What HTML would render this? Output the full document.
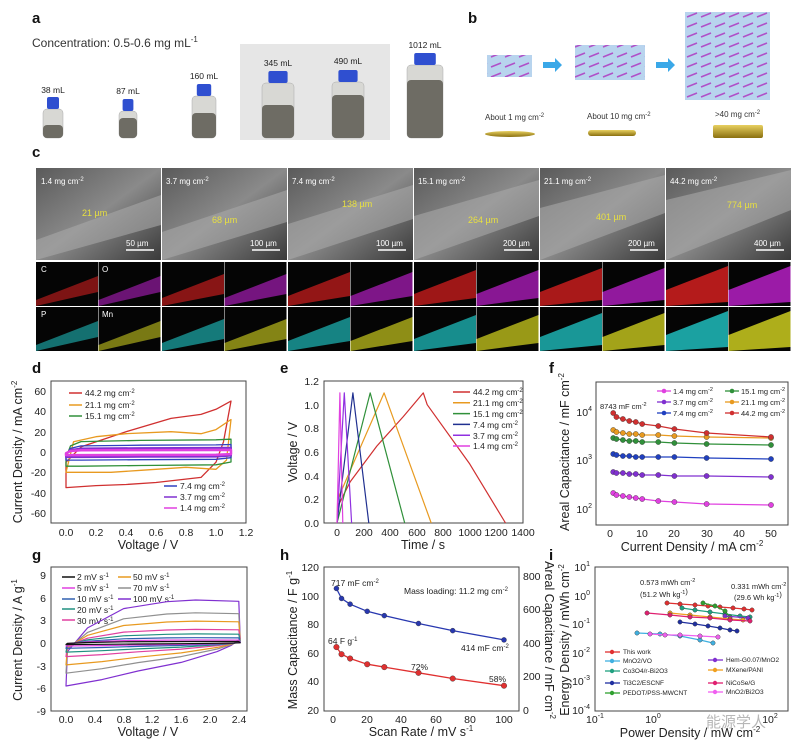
<!DOCTYPE html>
<html><head><meta charset="utf-8"><style>
body{margin:0;background:#fff}
svg{display:block;font-family:"Liberation Sans","Noto Sans CJK SC",sans-serif}
.t{font-size:10.5px;fill:#222}
.s{font-size:8.5px;fill:#222}
.l{font-size:12.5px;fill:#222}
.L{font-size:15px;font-weight:bold;fill:#111}
</style></head><body>
<svg id="s" width="800" height="753" viewBox="0 0 800 753" xmlns="http://www.w3.org/2000/svg">
<defs>
<linearGradient id="semgrad" x1="0" y1="0" x2="1" y2="1"><stop offset="0" stop-color="#5a5a5a"/><stop offset="0.5" stop-color="#8a8a8a"/><stop offset="1" stop-color="#3a3a3a"/></linearGradient>
<linearGradient id="disc" x1="0" y1="0" x2="0" y2="1"><stop offset="0" stop-color="#e8d060"/><stop offset="1" stop-color="#8a7010"/></linearGradient>
<pattern id="lat" width="14" height="10" patternUnits="userSpaceOnUse"><rect width="14" height="10" fill="#b8d4ee"/><line x1="1" y1="7" x2="11" y2="3" stroke="#b050c8" stroke-width="1.5"/></pattern>
</defs>
<rect width="800" height="753" fill="#fff"/>
<!-- a -->
<text x="32" y="23" class="L">a</text>
<text x="32" y="47" style="font-size:12px;fill:#333">Concentration: 0.5-0.6 mg mL<tspan dy="-5" font-size="8">-1</tspan></text>
<rect x="240" y="44" width="150" height="96" fill="#e6e6e6"/>
<g id="bottles"></g>
<text x="53" y="93" class="s" text-anchor="middle">38 mL</text>
<text x="128" y="94" class="s" text-anchor="middle">87 mL</text>
<text x="204" y="79" class="s" text-anchor="middle">160 mL</text>
<text x="278" y="66" class="s" text-anchor="middle">345 mL</text>
<text x="348" y="64" class="s" text-anchor="middle">490 mL</text>
<text x="425" y="48" class="s" text-anchor="middle">1012 mL</text>
<!-- b -->
<text x="468" y="23" class="L">b</text>
<rect x="487" y="55" width="45" height="22" fill="url(#lat)"/>
<rect x="575" y="45" width="70" height="35" fill="url(#lat)"/>
<rect x="685" y="12" width="85" height="88" fill="url(#lat)"/>
<polygon points="543,62 555,62 555,58 562,65 555,72 555,68 543,68" fill="#3aa8e8"/>
<polygon points="656,62 668,62 668,58 675,65 668,72 668,68 656,68" fill="#3aa8e8"/>
<text x="485" y="120" style="font-size:8px;fill:#333">About 1 mg cm<tspan dy="-3" font-size="6">-2</tspan></text>
<text x="587" y="119" style="font-size:8px;fill:#333">About 10 mg cm<tspan dy="-3" font-size="6">-2</tspan></text>
<text x="715" y="117" style="font-size:8px;fill:#333">&gt;40 mg cm<tspan dy="-3" font-size="6">-2</tspan></text>
<ellipse cx="510" cy="134" rx="25" ry="3" fill="url(#disc)"/>
<rect x="588" y="130" width="48" height="6" rx="3" fill="url(#disc)"/>
<rect x="713" y="125" width="50" height="13" rx="2" fill="url(#disc)"/>
<!-- c -->
<text x="32" y="157" class="L">c</text>
<g id="semg"></g>
<g style="font-size:8px;fill:#fff">
<text x="41" y="184">1.4 mg cm<tspan dy="-3" font-size="6">-2</tspan></text>
<text x="166" y="184">3.7 mg cm<tspan dy="-3" font-size="6">-2</tspan></text>
<text x="292" y="184">7.4 mg cm<tspan dy="-3" font-size="6">-2</tspan></text>
<text x="418" y="184">15.1 mg cm<tspan dy="-3" font-size="6">-2</tspan></text>
<text x="544" y="184">21.1 mg cm<tspan dy="-3" font-size="6">-2</tspan></text>
<text x="670" y="184">44.2 mg cm<tspan dy="-3" font-size="6">-2</tspan></text>
<text x="126" y="246">50 µm</text><text x="250" y="246">100 µm</text><text x="376" y="246">100 µm</text>
<text x="503" y="246">200 µm</text><text x="628" y="246">200 µm</text><text x="754" y="246">400 µm</text>
<text x="41" y="272">C</text><text x="102" y="272">O</text><text x="41" y="317">P</text><text x="102" y="317">Mn</text>
</g>
<g style="font-size:9px;fill:#e8e040">
<text x="82" y="216">21 µm</text><text x="212" y="223">68 µm</text><text x="342" y="207">138 µm</text>
<text x="468" y="223">264 µm</text><text x="596" y="220">401 µm</text><text x="727" y="208">774 µm</text>
</g>
<!-- d -->
<text x="32" y="373" class="L">d</text>
<rect x="51" y="381" width="195" height="142" fill="none" stroke="#444"/>
<g class="t" text-anchor="end">
<text x="46" y="395">60</text><text x="46" y="415">40</text><text x="46" y="436">20</text><text x="46" y="456">0</text><text x="46" y="476">-20</text><text x="46" y="497">-40</text><text x="46" y="517">-60</text></g>
<g class="t" text-anchor="middle">
<text x="66" y="536">0.0</text><text x="96" y="536">0.2</text><text x="126" y="536">0.4</text><text x="156" y="536">0.6</text><text x="186" y="536">0.8</text><text x="216" y="536">1.0</text><text x="246" y="536">1.2</text></g>
<text x="148" y="549" class="l" text-anchor="middle">Voltage / V</text>
<text transform="translate(22,452) rotate(-90)" class="l" text-anchor="middle">Current Density / mA cm<tspan dy="-5" font-size="8">-2</tspan></text>
<g class="s"><text x="85" y="396">44.2 mg cm<tspan dy="-3" font-size="6">-2</tspan></text><text x="85" y="408">21.1 mg cm<tspan dy="-3" font-size="6">-2</tspan></text><text x="85" y="419">15.1 mg cm<tspan dy="-3" font-size="6">-2</tspan></text>
<text x="180" y="489">7.4 mg cm<tspan dy="-3" font-size="6">-2</tspan></text><text x="180" y="500">3.7 mg cm<tspan dy="-3" font-size="6">-2</tspan></text><text x="180" y="511">1.4 mg cm<tspan dy="-3" font-size="6">-2</tspan></text></g>
<!-- e -->
<text x="280" y="373" class="L">e</text>
<rect x="324" y="381" width="199" height="142" fill="none" stroke="#444"/>
<g class="t" text-anchor="end">
<text x="319" y="527">0.0</text><text x="319" y="503">0.2</text><text x="319" y="480">0.4</text><text x="319" y="456">0.6</text><text x="319" y="432">0.8</text><text x="319" y="409">1.0</text><text x="319" y="385">1.2</text></g>
<g class="t" text-anchor="middle">
<text x="337" y="536">0</text><text x="364" y="536">200</text><text x="390" y="536">400</text><text x="417" y="536">600</text><text x="443" y="536">800</text><text x="470" y="536">1000</text><text x="496" y="536">1200</text><text x="523" y="536">1400</text></g>
<text x="423" y="549" class="l" text-anchor="middle">Time / s</text>
<text transform="translate(297,452) rotate(-90)" class="l" text-anchor="middle">Voltage / V</text>
<g class="s"><text x="473" y="395">44.2 mg cm<tspan dy="-3" font-size="6">-2</tspan></text><text x="473" y="406">21.1 mg cm<tspan dy="-3" font-size="6">-2</tspan></text><text x="473" y="417">15.1 mg cm<tspan dy="-3" font-size="6">-2</tspan></text><text x="473" y="428">7.4 mg cm<tspan dy="-3" font-size="6">-2</tspan></text><text x="473" y="439">3.7 mg cm<tspan dy="-3" font-size="6">-2</tspan></text><text x="473" y="449">1.4 mg cm<tspan dy="-3" font-size="6">-2</tspan></text></g>
<!-- f -->
<text x="549" y="373" class="L">f</text>
<rect x="596" y="382" width="192" height="143" fill="none" stroke="#444"/>
<g class="t" text-anchor="end">
<text x="592" y="416">10<tspan dy="-5" font-size="7">4</tspan></text><text x="592" y="464">10<tspan dy="-5" font-size="7">3</tspan></text><text x="592" y="513">10<tspan dy="-5" font-size="7">2</tspan></text></g>
<g class="t" text-anchor="middle">
<text x="610" y="537">0</text><text x="642" y="537">10</text><text x="674" y="537">20</text><text x="707" y="537">30</text><text x="739" y="537">40</text><text x="771" y="537">50</text></g>
<text x="692" y="551" class="l" text-anchor="middle">Current Density / mA cm<tspan dy="-5" font-size="8">-2</tspan></text>
<text transform="translate(569,452) rotate(-90)" class="l" text-anchor="middle">Areal Capacitance / mF cm<tspan dy="-5" font-size="8">-2</tspan></text>
<text x="600" y="409" style="font-size:7.5px;fill:#222">8743 mF cm<tspan dy="-3" font-size="5.5">-2</tspan></text>
<g style="font-size:7.5px;fill:#222"><text x="673" y="394">1.4 mg cm<tspan dy="-3" font-size="5.5">-2</tspan></text><text x="673" y="405">3.7 mg cm<tspan dy="-3" font-size="5.5">-2</tspan></text><text x="673" y="416">7.4 mg cm<tspan dy="-3" font-size="5.5">-2</tspan></text>
<text x="741" y="394">15.1 mg cm<tspan dy="-3" font-size="5.5">-2</tspan></text><text x="741" y="405">21.1 mg cm<tspan dy="-3" font-size="5.5">-2</tspan></text><text x="741" y="416">44.2 mg cm<tspan dy="-3" font-size="5.5">-2</tspan></text></g>
<!-- g -->
<text x="32" y="560" class="L">g</text>
<rect x="51" y="567" width="196" height="144" fill="none" stroke="#444"/>
<g class="t" text-anchor="end">
<text x="46" y="579">9</text><text x="46" y="602">6</text><text x="46" y="624">3</text><text x="46" y="647">0</text><text x="46" y="670">-3</text><text x="46" y="692">-6</text><text x="46" y="715">-9</text></g>
<g class="t" text-anchor="middle">
<text x="66" y="723">0.0</text><text x="95" y="723">0.4</text><text x="124" y="723">0.8</text><text x="152" y="723">1.2</text><text x="181" y="723">1.6</text><text x="210" y="723">2.0</text><text x="239" y="723">2.4</text></g>
<text x="148" y="736" class="l" text-anchor="middle">Voltage / V</text>
<text transform="translate(22,640) rotate(-90)" class="l" text-anchor="middle">Current Density / A g<tspan dy="-5" font-size="8">-1</tspan></text>
<g class="s"><text x="77" y="580">2 mV s<tspan dy="-3" font-size="6">-1</tspan></text><text x="77" y="591">5 mV s<tspan dy="-3" font-size="6">-1</tspan></text><text x="77" y="602">10 mV s<tspan dy="-3" font-size="6">-1</tspan></text><text x="77" y="613">20 mV s<tspan dy="-3" font-size="6">-1</tspan></text><text x="77" y="624">30 mV s<tspan dy="-3" font-size="6">-1</tspan></text>
<text x="133" y="580">50 mV s<tspan dy="-3" font-size="6">-1</tspan></text><text x="133" y="591">70 mV s<tspan dy="-3" font-size="6">-1</tspan></text><text x="133" y="602">100 mV s<tspan dy="-3" font-size="6">-1</tspan></text></g>
<!-- h -->
<text x="280" y="560" class="L">h</text>
<rect x="324" y="567" width="195" height="144" fill="none" stroke="#444"/>
<g class="t" text-anchor="end">
<text x="319" y="571">120</text><text x="319" y="600">100</text><text x="319" y="628">80</text><text x="319" y="657">60</text><text x="319" y="685">40</text><text x="319" y="714">20</text></g>
<g class="t"><text x="523" y="580">800</text><text x="523" y="613">600</text><text x="523" y="647">400</text><text x="523" y="680">200</text><text x="523" y="714">0</text></g>
<g class="t" text-anchor="middle">
<text x="333" y="723">0</text><text x="367" y="723">20</text><text x="401" y="723">40</text><text x="436" y="723">60</text><text x="470" y="723">80</text><text x="504" y="723">100</text></g>
<text x="421" y="736" class="l" text-anchor="middle">Scan Rate / mV s<tspan dy="-5" font-size="8">-1</tspan></text>
<text transform="translate(297,640) rotate(-90)" class="l" text-anchor="middle">Mass Capacitance / F g<tspan dy="-5" font-size="8">-1</tspan></text>
<text transform="translate(545,640) rotate(90)" class="l" text-anchor="middle">Areal Capacitance / mF cm<tspan dy="-5" font-size="8">-2</tspan></text>
<g class="s"><text x="331" y="586">717 mF cm<tspan dy="-3" font-size="6">-2</tspan></text><text x="404" y="594">Mass loading: 11.2 mg cm<tspan dy="-3" font-size="6">-2</tspan></text>
<text x="461" y="651">414 mF cm<tspan dy="-3" font-size="6">-2</tspan></text><text x="328" y="644">64 F g<tspan dy="-3" font-size="6">-1</tspan></text><text x="411" y="670">72%</text><text x="489" y="682">58%</text></g>
<!-- i -->
<text x="549" y="560" class="L">i</text>
<rect x="595" y="567" width="193" height="144" fill="none" stroke="#444"/>
<g class="t" text-anchor="end">
<text x="590" y="571">10<tspan dy="-5" font-size="7">1</tspan></text><text x="590" y="600">10<tspan dy="-5" font-size="7">0</tspan></text><text x="590" y="628">10<tspan dy="-5" font-size="7">-1</tspan></text><text x="590" y="657">10<tspan dy="-5" font-size="7">-2</tspan></text><text x="590" y="685">10<tspan dy="-5" font-size="7">-3</tspan></text><text x="590" y="714">10<tspan dy="-5" font-size="7">-4</tspan></text></g>
<g class="t" text-anchor="middle">
<text x="595" y="723">10<tspan dy="-5" font-size="7">-1</tspan></text><text x="653" y="723">10<tspan dy="-5" font-size="7">0</tspan></text><text x="770" y="723">10<tspan dy="-5" font-size="7">2</tspan></text></g>
<text x="690" y="737" class="l" text-anchor="middle">Power Density / mW cm<tspan dy="-5" font-size="8">-2</tspan></text>
<text transform="translate(569,640) rotate(-90)" class="l" text-anchor="middle">Energy Density / mWh cm<tspan dy="-5" font-size="8">-2</tspan></text>
<g style="font-size:7.5px;fill:#222"><text x="640" y="585">0.573 mWh cm<tspan dy="-3" font-size="5.5">-2</tspan></text><text x="640" y="597">(51.2 Wh kg<tspan dy="-3" font-size="5.5">-1</tspan>)</text>
<text x="731" y="589">0.331 mWh cm<tspan dy="-3" font-size="5.5">-2</tspan></text><text x="734" y="600">(29.6 Wh kg<tspan dy="-3" font-size="5.5">-1</tspan>)</text></g>
<g style="font-size:6.5px;fill:#222"><text x="623" y="654">This work</text><text x="623" y="663">MnO2/VO</text><text x="623" y="673">Co3O4/r-Bi2O3</text><text x="623" y="685">Ti3C2/ESCNF</text><text x="623" y="695">PEDOT/PSS-MWCNT</text>
<text x="726" y="662">Hem-G0.07/MnO2</text><text x="726" y="672">MXene/PANI</text><text x="726" y="685">NiCoSe/G</text><text x="726" y="694">MnO2/Bi2O3</text></g>
<text x="706" y="727" style="font-size:15px;fill:#999;opacity:0.7">能源学人</text>
<g id="dyn"></g>
</svg>
<script>
var NS="http://www.w3.org/2000/svg",D=document.getElementById("dyn");
function el(t,a,p){var e=document.createElementNS(NS,t);for(var k in a)e.setAttribute(k,a[k]);(p||D).appendChild(e);return e;}
function pl(pts,c,w,close,mk){el(close?"polygon":"polyline",{points:pts.map(function(p){return p[0].toFixed(1)+","+p[1].toFixed(1)}).join(" "),fill:"none",stroke:c,"stroke-width":w||1.2,"stroke-linejoin":"round"});if(mk)pts.forEach(function(p){el("circle",{cx:p[0],cy:p[1],r:mk,fill:c,stroke:"#333","stroke-width":0.4})});}
// bottles
var B=document.getElementById("bottles");
[[53,97,20,125],[128,99,18,118],[204,84,24,113],[278,71,32,105],[348,70,32,95],[425,53,36,80]].forEach(function(b){var cx=b[0],w=b[2];
el("rect",{x:cx-w/2,y:b[1]+12,width:w,height:138-b[1]-12,rx:4,fill:"#d8d8d4",stroke:"#aaa","stroke-width":0.5},B);
el("rect",{x:cx-w/2,y:b[3],width:w,height:138-b[3],rx:4,fill:"#6e6c64"},B);
el("rect",{x:cx-w*0.3,y:b[1],width:w*0.6,height:12,rx:2,fill:"#2f4fd0"},B);});
// SEM
var S=document.getElementById("semg");
var txt=document.querySelectorAll("text");
for(var i=0;i<6;i++){var x=36+i*126;el("rect",{x:x,y:168,width:125,height:92,fill:"url(#semgrad)"},S);
el("path",{d:"M"+x+","+(240-i*8)+" L"+(x+125)+","+(195-i*5)+" L"+(x+125)+","+(225-i*3)+" L"+x+","+(260)+"Z",fill:"#a8a8a8",opacity:0.6},S);
el("line",{x1:x+90,y1:250,x2:x+118,y2:250,stroke:"#fff","stroke-width":1.5},S);
var cols=[["#e02020","#c020d0"],["#20c8c8","#d8d820"]];
for(var r=0;r<2;r++)for(var h=0;h<2;h++){var xx=x+h*62.5,yy=262+r*45;el("rect",{x:xx,y:yy,width:62,height:44,fill:"#050505"},S);
el("polygon",{points:xx+","+(yy+38-i*2)+" "+(xx+62)+","+(yy+14-i*2)+" "+(xx+62)+","+(yy+30+i*2)+" "+xx+","+(yy+44),fill:cols[r][h],opacity:0.55+0.05*i},S);}}
// d
function Xd(v){return 66+v*150}function Yd(c){return 452-c*1.017}
function cv(A,B2,c,w){var top=[[0,-B2*0.4],[0.03,A*0.5],[0.1,A*0.85],[0.5,A*0.95],[1.0,A],[1.1,A*1.05]],bot=[[1.1,-B2*0.7],[1.0,-B2*0.9],[0.5,-B2*0.95],[0.1,-B2],[0,-B2]];
pl(top.concat(bot).map(function(p){return[Xd(p[0]),Yd(p[1])]}),c,w,true);}
pl([[0,-10],[0.1,5],[0.4,20],[0.7,33],[0.9,37],[1.0,42],[1.1,50],[1.05,10],[1.0,-10],[0.9,-25],[0.6,-30],[0.4,-32],[0.2,-33],[0,-35]].map(function(p){return[Xd(p[0]),Yd(p[1])]}),"#d03030",1.3,true);
pl([[0,-20],[0.05,10],[0.2,15],[0.4,18],[0.7,20],[0.9,18],[1.0,22],[1.1,32],[1.07,-8],[1.0,-17],[0.8,-15],[0.5,-18],[0.3,-20],[0,-20]].map(function(p){return[Xd(p[0]),Yd(p[1])]}),"#e89a20",1.3,true);
cv(12,14,"#30903a",1.3);cv(7,8,"#3040c0",1.3);cv(4,5,"#8030d0",2);cv(2,3,"#e040e0",2.5);
[["#d03030",393],["#e89a20",405],["#30903a",416]].forEach(function(a){el("line",{x1:69,y1:a[1],x2:82,y2:a[1],stroke:a[0],"stroke-width":1.5})});
[["#3040c0",486],["#8030d0",497],["#e040e0",508]].forEach(function(a){el("line",{x1:164,y1:a[1],x2:177,y2:a[1],stroke:a[0],"stroke-width":1.5})});
// e
function Xe(t){return 337+t*0.1327}function Ye(v){return 523-v*118.3}
var E=[["#d03030",[[0,0],[10,0.15],[100,0.35],[300,0.65],[500,0.9],[650,1.1],[680,1.0],[1000,0.5],[1270,0]]],["#e89a20",[[0,0],[5,0.2],[355,1.1],[710,0]]],["#30903a",[[0,0],[250,1.1],[510,0]]],["#203090",[[0,0],[120,1.1],[240,0]]],["#9030e0",[[0,0],[55,1.1],[110,0]]],["#e040e0",[[0,0],[22,1.1],[44,0]]]];
E.forEach(function(s,k){pl(s[1].map(function(p){return[Xe(p[0]),Ye(p[1])]}),s[0],1.2);el("line",{x1:453,y1:392+k*10.8,x2:470,y2:392+k*10.8,stroke:s[0],"stroke-width":1.5})});
// f
var fi=[1,2,4,6,8,10,15,20,30,50];
var F=[["#e040e0",[493,495,496,497,498,499,501,502,504,505]],["#8030d0",[472,473,473,474,474,475,475,476,476,477]],["#2040c0",[454,455,456,456,457,457,457,457,458,459]],["#30903a",[438,439,440,441,441,442,442,443,444,445]],["#e89a20",[430,432,433,434,434,435,435,436,437,438]],["#d03030",[413,417,419,421,422,424,426,429,433,437]]];
F.forEach(function(s){pl(fi.map(function(v,j){return[610+v*3.22,s[1][j]]}),s[0],1.3,false,2.6)});
[["#e040e0",657,391],["#8030d0",657,402],["#2040c0",657,413],["#30903a",725,391],["#e89a20",725,402],["#d03030",725,413]].forEach(function(a){el("line",{x1:a[1],y1:a[2],x2:a[1]+14,y2:a[2],stroke:a[0],"stroke-width":1.3});el("circle",{cx:a[1]+7,cy:a[2],r:2.3,fill:a[0]})});
// g
function Xg(v){return 66+v*72}function Yg(j){return 643-j*7.55}
var G=[["#8030d0",5.7],["#909090",4.0],["#e89a20",2.9],["#e040a0",1.8],["#209080",1.2],["#3060b0",0.7],["#e040e0",0.4],["#111",0.2]];
G.forEach(function(s){var A=s[1];var pts=[[0,-A],[0.02,-0.2*A],[0.3,0.35*A],[0.8,0.8*A],[1.4,0.96*A],[1.8,A],[2.4,0.97*A],[2.42,0.1*A],[2.3,-0.05*A],[2.1,-0.2*A],[1.6,-0.45*A],[1.0,-0.65*A],[0.5,-0.85*A]];
pl(pts.map(function(p){return[Xg(p[0]),Yg(p[1])]}),s[0],1.2,true)});
[["#111",577],["#e040e0",588],["#3060b0",599],["#209080",609],["#e040a0",620]].forEach(function(a){el("line",{x1:62,y1:a[1],x2:75,y2:a[1],stroke:a[0],"stroke-width":1.5})});
[["#e89a20",577],["#909090",588],["#8030d0",599]].forEach(function(a){el("line",{x1:118,y1:a[1],x2:131,y2:a[1],stroke:a[0],"stroke-width":1.5})});
// h
var hs=[2,5,10,20,30,50,70,100];function Xh(s){return 333+s*1.71}function Yh(m){return 710-(m-20)*1.43}
pl(hs.map(function(s,j){return[Xh(s),Yh([105,98,94,89,86,80.5,75.5,69][j])]}),"#2838b0",1.3,false,2.5);
pl(hs.map(function(s,j){return[Xh(s),Yh([64,59,56,52,50,46,42,37][j])]}),"#e03030",1.3,false,2.8);
// i
var I=[["#e03030",[[667,603],[680,604],[695,605],[708,606],[720,607],[733,608],[744,609],[752,610]]],["#40b0e0",[[637,633],[660,634],[680,636],[700,640],[713,643]]],["#20a080",[[682,608],[695,610],[710,612],[725,614],[740,616],[750,617]]],["#2030a0",[[680,622],[695,624],[708,626],[720,628],[730,630],[737,631]]],["#30a030",[[703,603],[715,606],[725,611],[730,617]]],["#8030d0",[[725,616],[748,618]]],["#f0a020",[[670,613],[690,615],[710,617],[730,619],[743,620]]],["#e02070",[[647,613],[670,615],[690,617],[710,618],[730,620],[750,621]]],["#f060f0",[[650,634],[665,635],[680,635],[700,636],[718,637]]]];
I.forEach(function(s){pl(s[1],s[0],1.2,false,2.2)});
[["#e03030",605,652],["#40b0e0",605,661],["#20a080",605,671],["#2030a0",605,683],["#30a030",605,693],["#8030d0",708,660],["#f0a020",708,670],["#e02070",708,683],["#f060f0",708,692]].forEach(function(a){el("line",{x1:a[1],y1:a[2],x2:a[1]+15,y2:a[2],stroke:a[0],"stroke-width":1.3});el("circle",{cx:a[1]+7,cy:a[2],r:2.2,fill:a[0]})});
// move SEM labels on top
var svg=document.getElementById("s");var gs=svg.querySelectorAll("g");
svg.appendChild(gs[1]===undefined?document.createElementNS(NS,"g"):document.createElementNS(NS,"g"));
</script>
<script>
(function(){var svg=document.getElementById("s"),semg=document.getElementById("semg");
var n=semg.nextElementSibling;var list=[];while(n&&n.tagName==="g"&&list.length<3){list.push(n);n=n.nextElementSibling;}
list.forEach(function(g){svg.appendChild(g);});})();
</script>
</body></html>
